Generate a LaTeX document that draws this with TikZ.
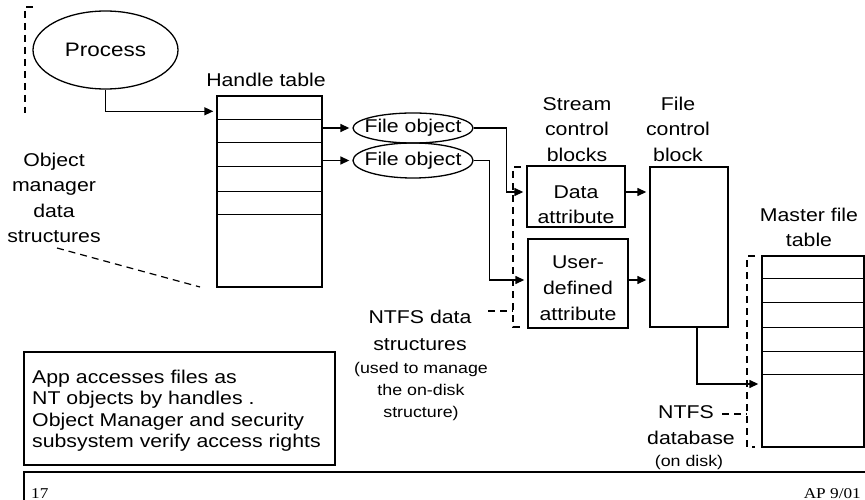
\documentclass[tikz,border=0pt]{standalone}
\usepackage{fontspec}
\setmainfont{Liberation Sans}[FakeStretch=1.15]
\newfontfamily\footserif{Liberation Serif}[FakeStretch=1.15]
\usetikzlibrary{arrows.meta,shapes.geometric}
\tikzset{
  solid line/.style={line width=1.4pt},
  dash line/.style={line width=1.2pt, dash pattern=on 7pt off 5pt},
  arr/.style={solid line, -{Triangle[length=9pt,width=8pt]}, shorten >=3pt},
  big/.style={font=\fontsize{18.5}{22}\selectfont},
  small/.style={font=\fontsize{15.5}{18}\selectfont},
  txt/.style={big, anchor=base, inner sep=0pt},
  stxt/.style={small, anchor=base, inner sep=0pt},
  ltxt/.style={big, anchor=base west, inner sep=0pt},
  boxnode/.style={draw, solid line, rectangle, inner sep=0pt},
  ellnode/.style={draw, line width=1.3pt, ellipse, inner sep=0pt},
}
\begin{document}
\begin{tikzpicture}[x=1pt,y=-1pt]
\useasboundingbox (0,0) rectangle (865,500);

% top-left dashed bracket
\draw[dash line] (33,7) -- (25,7) -- (25,113);

% Process
\node[ellnode, minimum width=145pt, minimum height=78pt,
      font=\fontsize{19.5}{22}\selectfont] (proc) at (105.5,50) {Process};

% Handle table
\node[txt] (htlbl) at (266,86.6) {Handle table};
\node[boxnode, minimum width=105pt, minimum height=191pt] (ht) at (269.5,191.5) {};
\foreach \yy in {24,47,71,96,119}
  \draw[solid line] ([yshift=-\yy pt]ht.north west) -- ([yshift=-\yy pt]ht.north east);

% Object manager label
\node[txt] (om1) at (54,167) {Object};
\node[txt] (om2) at (54,192) {manager};
\node[txt] (om3) at (54,217) {data};
\node[txt] (om4) at (54,242.5) {structures};
\draw[dash line] (57,248) -- (200,287);

% File objects
\node[ellnode, minimum width=120pt, minimum height=30pt,
      label={[big, inner sep=0pt]center:File object}] (fo1) at (413,128) {};
\node[ellnode, minimum width=120pt, minimum height=35pt,
      label={[big, inner sep=0pt]center:File object}] (fo2) at (413,160.5) {};

% Stream control blocks
\node[txt] (sc1) at (577,110.7) {Stream};
\node[txt] (sc2) at (577,136) {control};
\node[txt] (sc3) at (577,161.7) {blocks};
\node[boxnode, minimum width=98pt, minimum height=61pt] (da) at (576,196.5) {};
\node[txt] (da1) at (576,198) {Data};
\node[txt] (da2) at (576,223) {attribute};
\node[boxnode, minimum width=100pt, minimum height=89pt] (ud) at (578,283.5) {};
\node[txt] (ud1) at (578,268) {User-};
\node[txt] (ud2) at (578,294) {defined};
\node[txt] (ud3) at (578,320) {attribute};

% File control block
\node[txt] (fc1) at (678,110.7) {File};
\node[txt] (fc2) at (678,136) {control};
\node[txt] (fc3) at (678,161.7) {block};
\node[boxnode, minimum width=78pt, minimum height=160pt] (fcb) at (689,247) {};

% Master file table
\node[txt] (mf1) at (809,221.7) {Master file};
\node[txt] (mf2) at (809,246.7) {table};
\node[boxnode, minimum width=102pt, minimum height=191pt] (mft) at (813,351.5) {};
\foreach \yy in {23,47,72,96,119}
  \draw[solid line] ([yshift=-\yy pt]mft.north west) -- ([yshift=-\yy pt]mft.north east);

% connectors
\draw[arr] (proc.south) |- ([yshift=-16pt]ht.north west);
\draw[arr] (fo1.west -| ht.east) -- (fo1.west);
\draw[arr] (fo2.west -| ht.east) -- (fo2.west);
\draw[arr] (fo1.east) -- ++(33,0) |- ([yshift=4.5pt]da.west);
\draw[arr] (fo2.east) -- ++(16,0) |- ([yshift=3.5pt]ud.west);
\coordinate (d1) at ([yshift=4.5pt]da.east);
\coordinate (u1) at ([yshift=3.5pt]ud.east);
\draw[arr] (d1) -- (d1 -| fcb.west);
\draw[arr] (u1) -- (u1 -| fcb.west);
\draw[arr] ([xshift=8pt]fcb.south) |- ([yshift=-32.5pt]mft.west);

% NTFS data structures bracket
\draw[dash line] (521,167) -- (513,167) -- (513,327) -- (521,327);
\draw[dash line] (488,311) -- (513,311);
\node[txt] (nd1) at (420,323) {NTFS data};
\node[txt] (nd2) at (420,350) {structures};
\node[stxt] (nd3) at (421,373.5) {(used to manage};
\node[stxt] (nd4) at (421,395.5) {the on-disk};
\node[stxt] (nd5) at (421,417.5) {structure)};

% NTFS database bracket
\draw[dash line] (755,256) -- (747,256) -- (747,447) -- (755,447);
\draw[dash line] (722,414) -- (747,414);
\node[txt] (db1) at (686,418.6) {NTFS};
\node[txt] (db2) at (691,444.6) {database};
\node[stxt] (db3) at (689,466.5) {(on disk)};

% App box
\draw[solid line] (24,352) rectangle (335,465);
\node[ltxt] (ap1) at (32,383.6) {App accesses files as};
\node[ltxt] (ap2) at (32,404.6) {NT objects by handles .};
\node[ltxt] (ap3) at (32,426.6) {Object Manager and security};
\node[ltxt] (ap4) at (32,447.6) {subsystem verify access rights};

% footer
\draw[solid line] (24,503) -- (24,472) -- (868,472);
\node[anchor=base west, inner sep=0pt, font=\footserif\fontsize{15}{18}\selectfont] (pg) at (31,498) {17};
\node[anchor=base east, inner sep=0pt, font=\footserif\fontsize{15}{18}\selectfont] (ap) at (861,498) {AP 9/01};
\end{tikzpicture}
\end{document}
